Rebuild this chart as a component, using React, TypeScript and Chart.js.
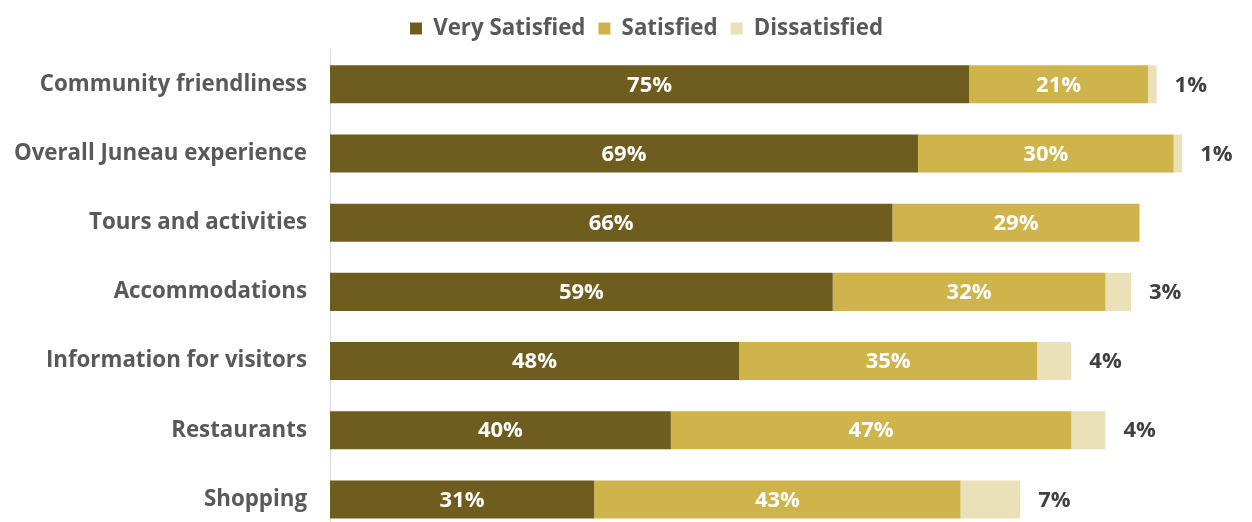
import React, { useEffect, useRef } from "react";
import { Chart, registerables } from "chart.js";

Chart.register(...registerables);

const categories = [
  "Community friendliness",
  "Overall Juneau experience",
  "Tours and activities",
  "Accommodations",
  "Information for visitors",
  "Restaurants",
  "Shopping",
];
const verySatisfied = [75, 69, 66, 59, 48, 40, 31];
const satisfied = [21, 30, 29, 32, 35, 47, 43];
const dissatisfied = [1, 1, 0, 3, 4, 4, 7];
const seriesNames = ["Very Satisfied", "Satisfied", "Dissatisfied"];
const seriesColors = ["#6F5D1F", "#CEB44B", "#EAE1B9"];

const FONT = "'Open Sans', 'Noto Sans', sans-serif";

const labelPlugin = {
  id: "barLabels",
  afterLayout(chart: any) {
    if (chart.legend) {
      chart.legend.left += 41;
    }
  },
  afterDatasetsDraw(chart: any) {
    const ctx = chart.ctx;
    ctx.save();
    ctx.textBaseline = "middle";
    chart.data.datasets.forEach((ds: any, di: number) => {
      const meta = chart.getDatasetMeta(di);
      meta.data.forEach((el: any, i: number) => {
        const v = ds.data[i];
        if (!v) return;
        const txt = v + "%";
        ctx.font = `bold 22px ${FONT}`;
        if (di < 2) {
          ctx.fillStyle = "#FFFFFF";
          ctx.textAlign = "center";
          ctx.fillText(txt, (el.x + el.base) / 2, el.y + 1);
        } else {
          ctx.fillStyle = "#404040";
          ctx.textAlign = "left";
          ctx.fillText(txt, el.x + 18, el.y + 1);
        }
      });
    });
    ctx.restore();
  },
};

export default function App() {
  const ref = useRef<HTMLCanvasElement | null>(null);
  useEffect(() => {
    if (!ref.current) return;
    const chart = new Chart(ref.current, {
      type: "bar",
      data: {
        labels: categories,
        datasets: [verySatisfied, satisfied, dissatisfied].map((d, i) => ({
          label: seriesNames[i],
          data: d,
          backgroundColor: seriesColors[i],
          borderWidth: 0,
          barPercentage: 0.55,
          categoryPercentage: 1,
        })),
      },
      options: {
        indexAxis: "y",
        animation: false,
        responsive: false,
        devicePixelRatio: 1,
        layout: { padding: { left: 0, right: 0, top: 4.4, bottom: 0 } },
        plugins: {
          legend: {
            position: "top",
            labels: {
              boxWidth: 12,
              boxHeight: 12,
              padding: 13,
              color: "#595959",
              font: { family: FONT, size: 22.3, weight: "bold" },
            },
          },
          tooltip: { enabled: false },
        },
        scales: {
          x: { stacked: true, min: 0, max: 108.2, display: false },
          y: {
            stacked: true,
            grid: { display: false, drawTicks: false },
            border: { display: true, color: "#D9D9D9", width: 1 },
            ticks: {
              padding: 23,
              color: "#595959",
              font: { family: FONT, size: 22.3, weight: "bold" },
            },
            afterFit: (scale: any) => {
              scale.width = 330;
              scale.paddingTop = 0;
              scale.paddingBottom = 0;
            },
          },
        },
      },
      plugins: [labelPlugin],
    });
    return () => chart.destroy();
  }, []);
  return (
    <div
      style={{
        position: "fixed",
        left: 0,
        top: 0,
        width: 1252,
        height: 522,
        overflow: "hidden",
        background: "#fff",
      }}
    >
      <canvas ref={ref} width={1252} height={534} style={{ display: "block" }} />
    </div>
  );
}
